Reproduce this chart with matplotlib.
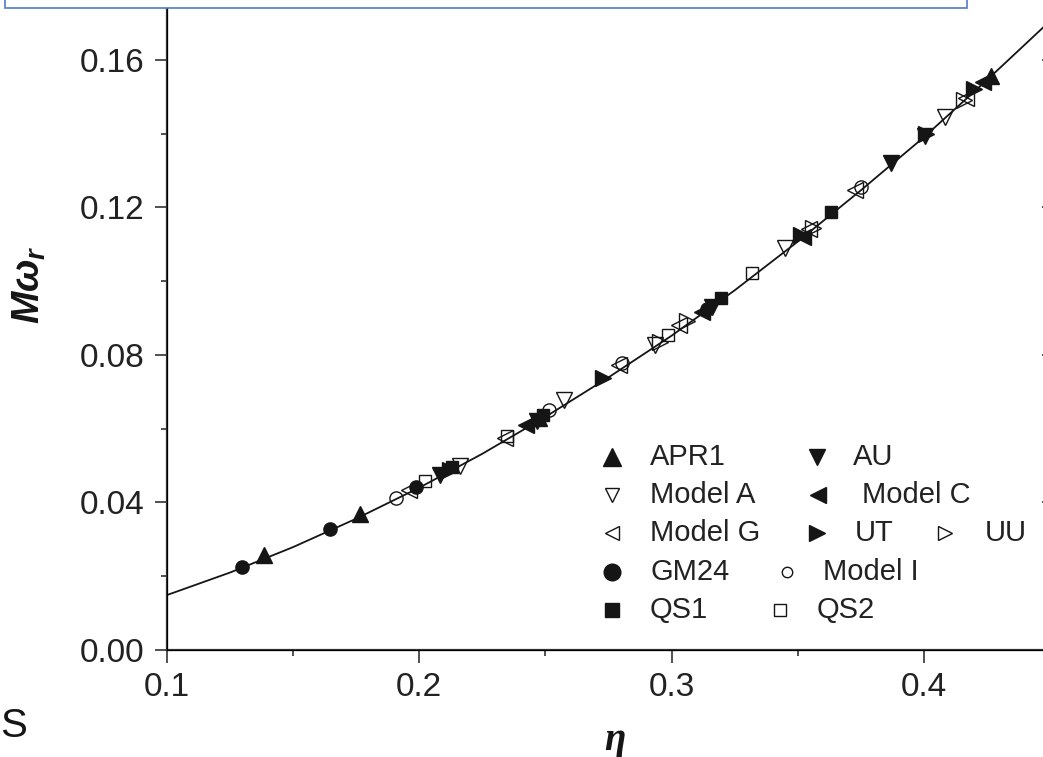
import matplotlib
matplotlib.use('Agg')
import matplotlib.pyplot as plt
from matplotlib.patches import Rectangle

plt.rcParams['font.family'] = ['Liberation Sans', 'DejaVu Sans']
plt.rcParams['mathtext.fontset'] = 'custom'
plt.rcParams['mathtext.it'] = 'Liberation Sans:bold:italic'
plt.rcParams['mathtext.rm'] = 'Liberation Sans:bold'

# fitted curve
fit_eta = [0.100, 0.125, 0.150, 0.175, 0.200, 0.225, 0.250, 0.275,
           0.300, 0.325, 0.350, 0.375, 0.400, 0.425, 0.450]
fit_mw = [0.0149, 0.0210, 0.0279, 0.0356, 0.0440, 0.0532, 0.0632, 0.0739,
          0.0852, 0.0975, 0.1107, 0.1246, 0.1390, 0.1545, 0.1705]

# EOS data points
apr1_eta = [0.1384, 0.1765, 0.2475, 0.4267]
apr1_mw = [0.0258, 0.0370, 0.0630, 0.1555]
au_eta = [0.2082, 0.2468, 0.3160, 0.3871, 0.4004]
au_mw = [0.0475, 0.0622, 0.0930, 0.1320, 0.1394]
modela_eta = [0.2160, 0.2573, 0.2933, 0.3450, 0.4082]
modela_mw = [0.0500, 0.0678, 0.0827, 0.1090, 0.1445]
modelc_eta = [0.2424, 0.3120, 0.3520, 0.4235]
modelc_mw = [0.0610, 0.0917, 0.1120, 0.1540]
modelg_eta = [0.1960, 0.2340, 0.2790, 0.3031, 0.3545, 0.3729, 0.4169]
modelg_mw = [0.0434, 0.0575, 0.0772, 0.0880, 0.1140, 0.1247, 0.1497]
ut_eta = [0.2120, 0.2730, 0.3514, 0.4010, 0.4200]
ut_mw = [0.0487, 0.0738, 0.1125, 0.1398, 0.1520]
uu_eta = [0.2955, 0.3060, 0.3560, 0.4160]
uu_mw = [0.0835, 0.0892, 0.1145, 0.1490]
gm24_eta = [0.1298, 0.1647, 0.1988, 0.3140]
gm24_mw = [0.0225, 0.0328, 0.0442, 0.0925]
modeli_eta = [0.1906, 0.2514, 0.2804, 0.3749]
modeli_mw = [0.0412, 0.0651, 0.0778, 0.1256]
qs1_eta = [0.2129, 0.2490, 0.3196, 0.3631]
qs1_mw = [0.0496, 0.0637, 0.0955, 0.1188]
qs2_eta = [0.2024, 0.2349, 0.2984, 0.3318]
qs2_mw = [0.0458, 0.0580, 0.0854, 0.1022]

W, H = 1043, 757
ink = '#151515'

def px(x, y):
    # pixel position (from top-left) -> figure fraction
    return x / W, 1 - y / H

# name, x, y, marker, filled, plot size, legend size, legend marker px, legend text px, legend row
series = [
    ('APR1', apr1_eta, apr1_mw, '^', True, 12, 13, 612, 650, 0),
    ('AU', au_eta, au_mw, 'v', True, 12, 12, 817, 853, 0),
    ('Model A', modela_eta, modela_mw, 'v', False, 12, 10, 612, 650, 1),
    ('Model C', modelc_eta, modelc_mw, '<', True, 12, 11, 818, 862, 1),
    ('Model G', modelg_eta, modelg_mw, '<', False, 12, 10, 612, 650, 2),
    ('UT', ut_eta, ut_mw, '>', True, 12, 11, 817, 855, 2),
    ('UU', uu_eta, uu_mw, '>', False, 12, 10, 945, 985, 2),
    ('GM24', gm24_eta, gm24_mw, 'o', True, 9.5, 12, 612, 650, 3),
    ('Model I', modeli_eta, modeli_mw, 'o', False, 9.5, 7.5, 787, 823, 3),
    ('QS1', qs1_eta, qs1_mw, 's', True, 9, 10.5, 612, 650, 4),
    ('QS2', qs2_eta, qs2_mw, 's', False, 9, 8.5, 780, 817, 4),
]
row_y = [457, 495, 533, 572, 610]

fig = plt.figure(figsize=(W / 100, H / 100), dpi=100)
ax = fig.add_axes([167 / W, 107 / H, 883 / W, 664 / H])

ax.plot(fit_eta, fit_mw, color=ink, lw=1.3, zorder=1)
for name, xs, ys, m, filled, ms, lms, mx, tx, row in series:
    ax.plot(xs, ys, ls='none', marker=m, ms=ms, mec=ink, mew=1.0,
            mfc=ink if filled else 'none', zorder=2)
    fx, fy = px(mx, row_y[row])
    fig.lines.append(plt.Line2D([fx], [fy], transform=fig.transFigure, ls='none',
                                marker=m, ms=lms, mec=ink, mew=1.0,
                                mfc=ink if filled else 'none'))
    tfx, tfy = px(tx, row_y[row])
    fig.text(tfx, tfy, name, fontsize=21, color='#222', ha='left', va='center')

ax.set_xlim(0.1, 0.4463)
ax.set_ylim(0, 0.18)
ax.set_xticks([0.1, 0.2, 0.3, 0.4])
ax.set_xticks([0.15, 0.25, 0.35, 0.45], minor=True)
ax.set_yticks([0.00, 0.04, 0.08, 0.12, 0.16])
ax.set_yticks([0.02, 0.06, 0.10, 0.14, 0.18], minor=True)
ax.set_xticklabels(['0.1', '0.2', '0.3', '0.4'])
ax.set_yticklabels(['0.00', '0.04', '0.08', '0.12', '0.16'])
ax.tick_params(which='major', direction='out', length=9, width=1.2, pad=7,
               labelsize=24, colors='#333', labelcolor='#222')
ax.tick_params(which='minor', direction='out', length=4.5, width=1.2, colors='#333')
for s in ax.spines.values():
    s.set_linewidth(1.6)
    s.set_color('#333')

# inward ticks on the right edge
twin = ax.twinx()
twin.set_ylim(ax.get_ylim())
twin.set_yticks([0.00, 0.04, 0.08, 0.12, 0.16])
twin.set_yticklabels([])
twin.tick_params(direction='in', length=6, width=1.2, colors='#333')

ax.set_ylabel(r'$M\omega_r$', fontsize=28, color=ink)
ax.yaxis.set_label_coords(-0.135, 0.55)
ax.text(0.507, -0.136, 'η', transform=ax.transAxes, fontsize=28,
        family='Liberation Serif', style='italic', fontweight='bold',
        ha='center', va='center', color=ink)

# bits of the surrounding page
fig.add_artist(Rectangle(px(5, 8), 962 / W, 0.1, transform=fig.transFigure,
                         facecolor='white', edgecolor='#4f7ac7', lw=1.2, zorder=5))
fig.text(0.0, 20 / H, 'S', fontsize=29, ha='left', va='baseline', color=ink)

fig.savefig('out.png', dpi=100)
